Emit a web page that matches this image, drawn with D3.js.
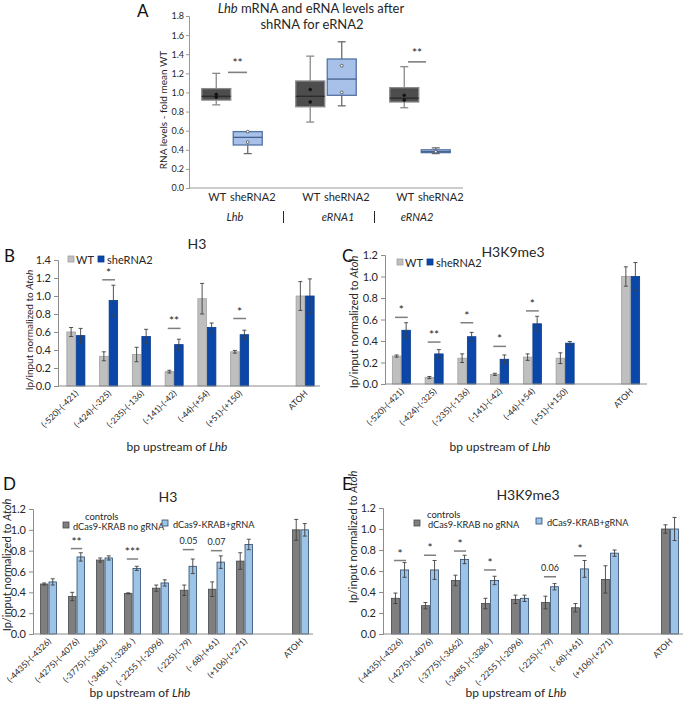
<!DOCTYPE html>
<html><head><meta charset="utf-8">
<script src="https://cdn.jsdelivr.net/npm/d3@7"></script>
<style>
body{margin:0;background:#fff;}
svg{display:block;font-family:Lato,"Open Sans",sans-serif;}
</style></head>
<body>
<script>
// ---------- DATA ----------
// Panel A (box plots)
const groupsA = ["Lhb", "eRNA1", "eRNA2"];
const condA = ["WT", "sheRNA2"];
const boxMin = [0.87, 0.36, 0.69, 0.86, 0.84, 0.36];
const boxQ1  = [0.92, 0.45, 0.85, 0.97, 0.90, 0.37];
const boxMed = [0.96, 0.53, 0.96, 1.14, 0.94, 0.38];
const boxQ3  = [1.04, 0.59, 1.12, 1.35, 1.05, 0.40];
const boxMax = [1.20, 0.59, 1.38, 1.53, 1.27, 0.42];
const boxPts = [[0.98, 0.95], [0.59, 0.48], [1.03, 0.90], [1.28, 1.00], [0.97, 0.92], [0.38]];
const sigAGroups = ["Lhb", "eRNA2"];
const sigALevel = [1.21, 1.32];
const sigALabel = ["**", "**"];
const ticksA = [0, 0.2, 0.4, 0.6, 0.8, 1.0, 1.2, 1.4, 1.6, 1.8];

// Panels B, C
const catsBC = ["(-520)-(-421)", "(-424)-(-325)", "(-235)-(-136)", "(-141)-(-42)", "(-44)-(+54)", "(+51)-(+150)", "", "ATOH"];
const seriesBC = ["WT", "sheRNA2"];
const bWT    = [0.60, 0.33, 0.35, 0.16, 0.97, 0.38, null, 1.00];
const bWTerr = [0.05, 0.05, 0.08, 0.015, 0.17, 0.015, null, 0.16];
const bSh    = [0.56, 0.95, 0.55, 0.46, 0.65, 0.57, null, 1.00];
const bShErr = [0.08, 0.17, 0.08, 0.06, 0.05, 0.05, null, 0.19];
const bSig   = [null, {l: 1.18, t: "*"}, null, {l: 0.64, t: "**"}, null, {l: 0.75, t: "*"}, null, null];
const ticksB = [0, 0.2, 0.4, 0.6, 0.8, 1.0, 1.2, 1.4];

const cWT    = [0.26, 0.06, 0.24, 0.09, 0.25, 0.24, null, 1.00];
const cWTerr = [0.01, 0.01, 0.04, 0.01, 0.03, 0.05, null, 0.09];
const cSh    = [0.50, 0.28, 0.44, 0.23, 0.56, 0.38, null, 1.00];
const cShErr = [0.07, 0.04, 0.04, 0.04, 0.07, 0.015, null, 0.13];
const cSig   = [{l: 0.62, t: "*"}, {l: 0.39, t: "**"}, {l: 0.57, t: "*"}, {l: 0.35, t: "*"}, {l: 0.68, t: "*"}, null, null, null];
const ticksC = [0, 0.2, 0.4, 0.6, 0.8, 1.0, 1.2];

// Panels D, E
const catsDE = ["(-4435)-(-4326)", "(-4275)-(-4076)", "(-3775)-(-3662)", "(-3485 )-(-3286 )", "(- 2255 )-(-2096)", "(-225)-(-79)", "(- 68)-(+61)", "(+106)-(+271)", "", "ATOH"];
const seriesDE = ["dCas9-KRAB no gRNA", "dCas9-KRAB+gRNA"];
const dCtl    = [0.48, 0.36, 0.71, 0.39, 0.44, 0.42, 0.43, 0.70, null, 1.00];
const dCtlErr = [0.01, 0.04, 0.02, 0.005, 0.03, 0.05, 0.07, 0.08, null, 0.10];
const dG      = [0.50, 0.74, 0.73, 0.63, 0.49, 0.65, 0.69, 0.86, null, 1.00];
const dGErr   = [0.03, 0.04, 0.02, 0.02, 0.03, 0.07, 0.06, 0.05, null, 0.06];
const dSig    = [null, {l: 0.82, t: "**"}, null, {l: 0.72, t: "***"}, null, {l: 0.81, t: "0.05"}, {l: 0.80, t: "0.07"}, null, null, null];

const eCtl    = [0.34, 0.27, 0.51, 0.29, 0.33, 0.30, 0.25, 0.52, null, 1.00];
const eCtlErr = [0.05, 0.03, 0.05, 0.05, 0.04, 0.06, 0.04, 0.13, null, 0.04];
const eG      = [0.61, 0.61, 0.71, 0.51, 0.34, 0.45, 0.62, 0.77, null, 1.00];
const eGErr   = [0.07, 0.09, 0.04, 0.04, 0.03, 0.03, 0.08, 0.03, null, 0.11];
const eSig    = [{l: 0.70, t: "*"}, {l: 0.75, t: "*"}, {l: 0.79, t: "*"}, {l: 0.61, t: "*"}, null, {l: 0.545, t: "0.06"}, {l: 0.745, t: "*"}, null, null, null];
const ticksDE = [0, 0.2, 0.4, 0.6, 0.8, 1.0, 1.2];

// ---------- DRAW ----------
const W = 685, H = 707;
const svg = d3.select("body").append("svg").attr("width", W).attr("height", H);
const txt = "#262626";
const axisCol = "#8c8c8c";

function letter(s, x, y) {
  svg.append("text").attr("x", x).attr("y", y).attr("font-size", 17).attr("fill", "#111").text(s);
}

// ---- Panel A ----
(function () {
  const gA = svg.append("g");
  const x0 = 189, x1 = 463, yb = 188, yt = 16;
  const y = d3.scaleLinear().domain([0, 1.8]).range([yb, yt]);
  const xg = d3.scaleBand().domain(groupsA).range([185, 467]);
  const xi = d3.scaleBand().domain(condA).range([-31.5, 31.5]);
  const ax = d3.axisLeft(y).tickValues(ticksA).tickFormat(d3.format(".1f")).tickSize(3).tickPadding(2);
  const ga = gA.append("g").attr("transform", `translate(${x0},0)`).call(ax);
  ga.select(".domain").attr("stroke", "#999");
  ga.selectAll(".tick line").attr("stroke", "#999");
  ga.selectAll("text").attr("font-size", 9).attr("fill", txt).attr("font-family", "Lato");
  gA.append("line").attr("x1", x0).attr("x2", x1).attr("y1", yb).attr("y2", yb).attr("stroke", "#999");
  const t1 = gA.append("text").attr("x", 311).attr("y", 13).attr("text-anchor", "middle").attr("font-size", 13).attr("fill", txt);
  t1.append("tspan").attr("font-style", "italic").text("Lhb");
  t1.append("tspan").text(" mRNA and eRNA levels after");
  gA.append("text").attr("x", 312).attr("y", 29).attr("text-anchor", "middle").attr("font-size", 13).attr("fill", txt).text("shRNA for eRNA2");
  gA.append("text").attr("transform", `translate(167,110) rotate(-90)`).attr("text-anchor", "middle")
    .attr("font-size", 10).attr("fill", txt).text("RNA levels - fold mean WT");
  const bw = 29;
  let k = 0;
  groupsA.forEach((g) => {
    condA.forEach((c) => {
      const cx = xg(g) + xg.bandwidth() / 2 + xi(c) + xi.bandwidth() / 2;
      const wt = c === "WT";
      const fill = wt ? "#4d4d4d" : "#a7c1e8";
      const stroke = wt ? "#8a8a8a" : "#5573a3";
      const wcol = wt ? "#8a8a8a" : "#6b6b6b";
      const i = k;
      gA.append("line").attr("x1", cx).attr("x2", cx).attr("y1", y(boxQ3[i])).attr("y2", y(boxMax[i])).attr("stroke", wcol).attr("stroke-width", 1.3);
      gA.append("line").attr("x1", cx).attr("x2", cx).attr("y1", y(boxQ1[i])).attr("y2", y(boxMin[i])).attr("stroke", wcol).attr("stroke-width", 1.3);
      [boxMax[i], boxMin[i]].forEach(v => {
        gA.append("line").attr("x1", cx - 4).attr("x2", cx + 4).attr("y1", y(v)).attr("y2", y(v)).attr("stroke", wcol).attr("stroke-width", 1.3);
      });
      gA.append("rect").attr("x", cx - bw / 2).attr("y", y(boxQ3[i])).attr("width", bw)
        .attr("height", y(boxQ1[i]) - y(boxQ3[i])).attr("fill", fill).attr("stroke", stroke).attr("stroke-width", 1.3);
      gA.append("line").attr("x1", cx - bw / 2).attr("x2", cx + bw / 2).attr("y1", y(boxMed[i])).attr("y2", y(boxMed[i]))
        .attr("stroke", wt ? "#2a2a2a" : "#44618f").attr("stroke-width", 1.3);
      boxPts[i].forEach(v => {
        gA.append("circle").attr("cx", cx).attr("cy", y(v)).attr("r", 1.4)
          .attr("fill", wt ? "#111" : "#fff").attr("stroke", wt ? "#111" : "#333").attr("stroke-width", 0.7);
      });
      gA.append("text").attr("x", cx + (wt ? 1 : 5)).attr("y", 201).attr("text-anchor", "middle")
        .attr("font-size", 11).attr("fill", txt).text(c);
      k++;
    });
    const goff = g === "Lhb" ? 3 : (g === "eRNA1" ? 12 : -3);
    gA.append("text").attr("x", xg(g) + xg.bandwidth() / 2 + goff).attr("y", 221).attr("text-anchor", "middle")
      .attr("font-size", 11).attr("font-style", "italic").attr("fill", txt).text(g);
  });
  [1, 2].forEach(j => {
    const sx = Math.round(xg(groupsA[j]) + (j === 1 ? 4 : 1)) + 0.5;
    gA.append("line").attr("x1", sx).attr("x2", sx).attr("y1", 211).attr("y2", 223).attr("stroke", txt).attr("stroke-width", 1);
  });
  sigAGroups.forEach((g, j) => {
    const cx = xg(g) + xg.bandwidth() / 2;
    const off = g === "Lhb" ? [-4, 15] : [-12, 6];
    gA.append("line").attr("x1", cx + off[0]).attr("x2", cx + off[1]).attr("y1", y(sigALevel[j])).attr("y2", y(sigALevel[j]))
      .attr("stroke", "#7f7f7f").attr("stroke-width", 1.6);
    gA.append("text").attr("x", cx + (off[0] + off[1]) / 2).attr("y", y(sigALevel[j]) - 5).attr("text-anchor", "middle")
      .attr("font-size", 12).attr("fill", txt).text(sigALabel[j]);
  });
  letter("A", 137, 17);
})();

// ---- Bar panels ----
function barPanel(o) {
  const g = svg.append("g");
  const y = d3.scaleLinear().domain([0, o.ymax]).range([o.y0, o.y1]);
  const x = d3.scaleBand().domain(o.cats.map((c, i) => i)).range([o.x0, o.x1]);
  const bw = x.bandwidth() * o.barFrac;
  const ax = d3.axisLeft(y).tickValues(o.ticks).tickFormat(d3.format(".1f")).tickSize(4).tickPadding(3);
  const ga = g.append("g").attr("transform", `translate(${o.x0},0)`).call(ax);
  ga.select(".domain").attr("stroke", axisCol);
  ga.selectAll(".tick line").attr("stroke", axisCol);
  ga.selectAll("text").attr("font-size", 11).attr("fill", txt).attr("font-family", "Lato");
  const series = [
    {v: o.s1, e: o.e1, fill: o.c1, stroke: o.st1, dx: -bw - 0.5},
    {v: o.s2, e: o.e2, fill: o.c2, stroke: o.st2, dx: 0.5}
  ];
  series.forEach(s => {
    s.v.forEach((v, i) => {
      if (v == null) return;
      const cx = x(i) + x.bandwidth() / 2 + o.shift;
      g.append("rect").attr("x", cx + s.dx).attr("y", y(v)).attr("width", bw).attr("height", y(0) - y(v))
        .attr("fill", s.fill).attr("stroke", s.stroke).attr("stroke-width", 0.8);
    });
  });
  series.forEach(s => {
    s.v.forEach((v, i) => {
      if (v == null) return;
      const cx = x(i) + x.bandwidth() / 2 + o.shift + s.dx + bw / 2;
      const e = s.e[i];
      g.append("line").attr("x1", cx).attr("x2", cx).attr("y1", y(v - e)).attr("y2", y(v + e)).attr("stroke", "#404040").attr("stroke-width", 0.9);
      [v - e, v + e].forEach(t => g.append("line").attr("x1", cx - 2).attr("x2", cx + 2).attr("y1", y(t)).attr("y2", y(t)).attr("stroke", "#404040").attr("stroke-width", 0.9));
    });
  });
  g.append("line").attr("x1", o.x0).attr("x2", o.x1).attr("y1", o.y0).attr("y2", o.y0).attr("stroke", axisCol).attr("stroke-width", 1.2);
  o.sig.forEach((s, i) => {
    if (!s) return;
    const cx = x(i) + x.bandwidth() / 2 + o.shift;
    const l = cx - bw * 0.75, r = cx + bw * 0.75;
    g.append("line").attr("x1", l).attr("x2", r).attr("y1", y(s.l)).attr("y2", y(s.l)).attr("stroke", "#7f7f7f").attr("stroke-width", 1.5);
    const isNum = /\d/.test(s.t);
    g.append("text").attr("x", (l + r) / 2).attr("y", y(s.l) - (isNum ? 6 : 3)).attr("text-anchor", "middle")
      .attr("font-size", isNum ? 9 : 12).attr("fill", txt).text(s.t);
  });
  o.cats.forEach((c, i) => {
    if (!c) return;
    const cx = x(i) + x.bandwidth() / 2 + o.shift + 3;
    g.append("text").attr("transform", `translate(${cx},${o.y0 + 8}) rotate(-45)`).attr("text-anchor", "end")
      .attr("font-size", o.xfs).attr("fill", txt).text(c);
  });
  const xt = g.append("text").attr("x", o.xtX).attr("y", o.xtY).attr("text-anchor", "middle").attr("font-size", 12).attr("fill", txt);
  xt.append("tspan").text("bp upstream of ");
  xt.append("tspan").attr("font-style", "italic").text("Lhb");
  const yt = g.append("text").attr("transform", `translate(${o.ytX},${o.ytY}) rotate(-90)`).attr("text-anchor", "middle")
    .attr("font-size", o.ytfs).attr("fill", txt);
  yt.append("tspan").text("Ip/input normalized to ");
  yt.append("tspan").attr("font-style", "italic").text("Atoh");
  g.append("text").attr("x", o.tX).attr("y", o.tY).attr("text-anchor", "middle").attr("font-size", 14).attr("fill", txt).text(o.title);
  const lx = o.lX, ly = o.lY;
  if (o.legendType === "simple") {
    g.append("rect").attr("x", lx).attr("y", ly - 8).attr("width", 6).attr("height", 6).attr("fill", o.c1).attr("stroke", o.st1).attr("stroke-width", 0.8);
    g.append("text").attr("x", lx + 8).attr("y", ly).attr("font-size", 11).attr("fill", txt).text(o.names[0]);
    g.append("rect").attr("x", lx + 30).attr("y", ly - 8).attr("width", 6).attr("height", 6).attr("fill", o.c2).attr("stroke", o.st2).attr("stroke-width", 0.8);
    g.append("text").attr("x", lx + 39).attr("y", ly).attr("font-size", 11).attr("fill", txt).text(o.names[1]);
  } else {
    g.append("text").attr("x", lx + o.cdx).attr("y", ly - 10).attr("font-size", 9.5).attr("fill", txt).text("controls");
    g.append("rect").attr("x", lx).attr("y", ly - 8).attr("width", 6).attr("height", 6).attr("fill", o.c1).attr("stroke", o.st1).attr("stroke-width", 0.8);
    g.append("text").attr("x", lx + o.tdx).attr("y", ly).attr("font-size", 9.2).attr("fill", txt).text(o.names[0]);
    g.append("rect").attr("x", lx + o.l2dx).attr("y", ly - 10).attr("width", 6).attr("height", 6).attr("fill", o.c2).attr("stroke", o.st2).attr("stroke-width", 0.8);
    g.append("text").attr("x", lx + o.l2dx + 11).attr("y", ly - 2).attr("font-size", 9.2).attr("fill", txt).text(o.names[1]);
  }
  letter(o.letter, o.LX, o.LY);
}

const greyL = "#bfbfbf", greyLs = "#a0a0a0", blueD = "#0b47a8", blueDs = "#083a8a";
const greyD = "#7f7f7f", greyDs = "#4a4a4a", blueL = "#9dc3e6", blueLs = "#2f4a6e";

barPanel({cats: catsBC, s1: bWT, e1: bWTerr, s2: bSh, e2: bShErr, sig: bSig, ticks: ticksB, ymax: 1.4,
  x0: 58, x1: 320, y0: 386, y1: 260, barFrac: 0.26, shift: 1.5, c1: greyL, st1: greyLs, c2: blueD, st2: blueDs,
  xfs: 8.5, xtX: 177, xtY: 451, ytX: 33, ytY: 330, ytfs: 10, title: "H3", tX: 197, tY: 249,
  legendType: "simple", lX: 68, lY: 264, names: seriesBC, letter: "B", LX: 4, LY: 262});

barPanel({cats: catsBC, s1: cWT, e1: cWTerr, s2: cSh, e2: cShErr, sig: cSig, ticks: ticksC, ymax: 1.2,
  x0: 385, x1: 647, y0: 384, y1: 255, barFrac: 0.26, shift: 0, c1: greyL, st1: greyLs, c2: blueD, st2: blueDs,
  xfs: 8.5, xtX: 500, xtY: 451, ytX: 358, ytY: 322, ytfs: 11, title: "H3K9me3", tX: 513, tY: 257,
  legendType: "simple", lX: 397, lY: 267, names: seriesBC, letter: "C", LX: 342, LY: 262});

barPanel({cats: catsDE, s1: dCtl, e1: dCtlErr, s2: dG, e2: dGErr, sig: dSig, ticks: ticksDE, ymax: 1.2,
  x0: 33, x1: 313, y0: 634, y1: 509, barFrac: 0.27, shift: 1.5, c1: greyD, st1: greyDs, c2: blueL, st2: blueLs,
  xfs: 8.5, xtX: 140, xtY: 697, ytX: 11, ytY: 565, ytfs: 11, title: "H3", tX: 168, tY: 502,
  legendType: "ctl", lX: 63, lY: 530, l2dx: 99, tdx: 10, cdx: 22, names: seriesDE, letter: "D", LX: 3, LY: 490});

barPanel({cats: catsDE, s1: eCtl, e1: eCtlErr, s2: eG, e2: eGErr, sig: eSig, ticks: ticksDE, ymax: 1.2,
  x0: 383, x1: 683, y0: 634, y1: 508, barFrac: 0.27, shift: 2, c1: greyD, st1: greyDs, c2: blueL, st2: blueLs,
  xfs: 8.5, xtX: 516, xtY: 697, ytX: 357, ytY: 537, ytfs: 11, title: "H3K9me3", tX: 528, tY: 500,
  legendType: "ctl", lX: 414, lY: 528, l2dx: 122, tdx: 14, cdx: 13, names: seriesDE, letter: "E", LX: 342, LY: 490});
</script>
</body></html>
